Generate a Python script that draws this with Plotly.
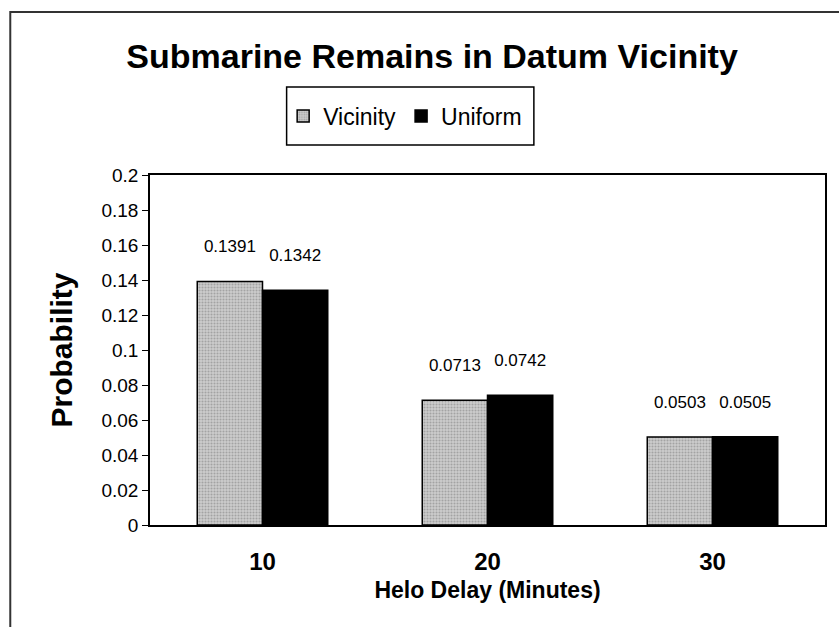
import plotly.graph_objects as go

# Helo delay categories and the two probability series
delays = ["10", "20", "30"]
vicinity = [0.1391, 0.0713, 0.0503]
uniform = [0.1342, 0.0742, 0.0505]
y_ticks = [0, 0.02, 0.04, 0.06, 0.08, 0.1, 0.12, 0.14, 0.16, 0.18, 0.2]

FONT = "Liberation Sans, Arial, sans-serif"

fig = go.Figure()
fig.add_trace(go.Bar(
    x=delays, y=vicinity, name="Vicinity",
    marker=dict(color="#c4c4c4", line=dict(color="black", width=1.5),
                pattern=dict(shape=".", fgcolor="#7a7a7a", bgcolor="#cdcdcd",
                             size=3, solidity=0.4)),
    text=[f"{v}<br> " for v in vicinity], textposition="outside",
    textfont=dict(size=17, color="black"), cliponaxis=False,
))
fig.add_trace(go.Bar(
    x=delays, y=uniform, name="Uniform",
    marker=dict(color="black", line=dict(color="black", width=1.5)),
    text=[f"{v}<br> " for v in uniform], textposition="outside",
    textfont=dict(size=17, color="black"), cliponaxis=False,
))

# outer chart frame
fig.add_shape(type="rect", xref="paper", yref="paper",
              x0=-0.207, x1=1.05, y0=-0.4, y1=1.466,
              line=dict(color="#333", width=2), layer="below")
# legend frame
fig.add_shape(type="rect", xref="paper", yref="paper",
              x0=0.2024, x1=0.5687, y0=1.0857, y1=1.2514,
              line=dict(color="black", width=1.5), fillcolor="white", layer="below")

fig.update_layout(
    width=839, height=627,
    margin=dict(l=150, r=12, t=175, b=102),
    paper_bgcolor="white", plot_bgcolor="white",
    font=dict(family=FONT, color="black"),
    barmode="group", bargap=0.42, bargroupgap=0,
    title=dict(text="<b>Submarine Remains in Datum Vicinity</b>",
               font=dict(size=34, family=FONT), x=0.515, xanchor="center",
               y=0.91, yanchor="middle"),
    legend=dict(orientation="h", x=0.378, xanchor="center", y=1.1686, yanchor="middle",
                borderwidth=0, bgcolor="rgba(0,0,0,0)",
                font=dict(size=23, family=FONT), itemwidth=30),
)

fig.update_xaxes(
    showline=True, linecolor="black", linewidth=1.5, mirror=True,
    ticks="", tickfont=dict(size=24, family=FONT),
    tickprefix="<b>", ticksuffix="</b>", ticklabelstandoff=14,
    title=dict(text="<b>Helo Delay (Minutes)</b>", font=dict(size=23), standoff=8),
)
fig.update_yaxes(
    range=[0, 0.2], tickvals=y_ticks, ticktext=[f"{t:g}" for t in y_ticks],
    showline=True, linecolor="black", linewidth=1.5, mirror=True,
    ticks="outside", ticklen=6, tickcolor="black", showgrid=False, zeroline=False,
    tickfont=dict(size=19, family=FONT),
    title=dict(text="<b>Probability</b>", font=dict(size=30), standoff=20),
)

# drop the default page margin so the figure fills the window exactly
fig.write_html("out.html", config={"displayModeBar": False},
               post_script="document.body.style.margin='0';")
